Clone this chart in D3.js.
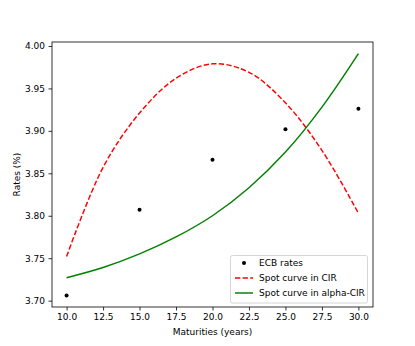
<!DOCTYPE html>
<html><head><meta charset="utf-8">
<script src="https://cdn.jsdelivr.net/npm/d3@7"></script>
<style>body{margin:0;background:#fff}svg{display:block}text{font-family:"DejaVu Sans",sans-serif;}</style>
</head><body><svg id="c" width="415" height="346"></svg>
<script>
const maturities = [10, 15, 20, 25, 30];
const ecbRates = [3.706, 3.807, 3.866, 3.902, 3.926];
const curveT = [10, 12.5, 15, 17.5, 20, 22.5, 25, 27.5, 30];
const cirCurve = [3.752, 3.857, 3.921, 3.962, 3.979, 3.969, 3.933, 3.877, 3.803];
const alphaCirCurve = [3.727, 3.739, 3.755, 3.775, 3.800, 3.833, 3.875, 3.928, 3.991];
const xTicks = [10, 12.5, 15, 17.5, 20, 22.5, 25, 27.5, 30];
const yTicks = [3.70, 3.75, 3.80, 3.85, 3.90, 3.95, 4.00];
const legendLabels = ["ECB rates", "Spot curve in CIR", "Spot curve in alpha-CIR"];

const svg = d3.select("#c");
const L = 52, R = 373, T = 42, B = 307;
const x = d3.scaleLinear().domain([9, 31]).range([L, R]);
const y = d3.scaleLinear().domain([3.6925, 4.0047]).range([B, T]);
const fs = 9;

const xAxis = svg.append("g").attr("transform", `translate(0,${B})`)
  .call(d3.axisBottom(x).tickValues(xTicks).tickFormat(d3.format(".1f")).tickSize(3.5).tickPadding(3.5));
const yAxis = svg.append("g").attr("transform", `translate(${L},0)`)
  .call(d3.axisLeft(y).tickValues(yTicks).tickFormat(d3.format(".2f")).tickSize(3.5).tickPadding(3.5));
[xAxis, yAxis].forEach(a => {
  a.select(".domain").remove();
  a.selectAll("line").attr("stroke", "#000").attr("stroke-width", 0.8);
  a.selectAll("text").attr("font-size", fs).attr("fill", "#000").attr("font-family", "DejaVu Sans");
});

const line = d3.line().x((d, i) => x(curveT[i])).y(d => y(d)).curve(d3.curveCatmullRom.alpha(0.5));
svg.append("path").datum(cirCurve).attr("d", line).attr("fill", "none")
  .attr("stroke", "red").attr("stroke-width", 1.45).attr("stroke-dasharray", "5.3,2.3");
svg.append("path").datum(alphaCirCurve).attr("d", line).attr("fill", "none")
  .attr("stroke", "green").attr("stroke-width", 1.45);

svg.selectAll("circle.pt").data(ecbRates).enter().append("circle")
  .attr("cx", (d, i) => x(maturities[i])).attr("cy", d => y(d)).attr("r", 2).attr("fill", "#000");

svg.append("rect").attr("x", L).attr("y", T).attr("width", R - L).attr("height", B - T)
  .attr("fill", "none").attr("stroke", "#000").attr("stroke-width", 0.8);

svg.append("text").attr("x", (L + R) / 2).attr("y", 335).attr("text-anchor", "middle")
  .attr("font-size", fs).text("Maturities (years)");
svg.append("text").attr("transform", `translate(20,${(T + B) / 2}) rotate(-90)`).attr("text-anchor", "middle")
  .attr("font-size", fs).text("Rates (%)");

// legend
const lg = svg.append("g");
lg.append("rect").attr("x", 230.5).attr("y", 255.5).attr("width", 137).attr("height", 47.5).attr("rx", 2)
  .attr("fill", "#fff").attr("fill-opacity", 0.8).attr("stroke", "#ccc").attr("stroke-width", 0.8);
const rows = [263, 278, 293];
lg.append("circle").attr("cx", 244).attr("cy", rows[0]).attr("r", 2).attr("fill", "#000");
lg.append("line").attr("x1", 235).attr("x2", 253).attr("y1", rows[1]).attr("y2", rows[1])
  .attr("stroke", "red").attr("stroke-width", 1.45).attr("stroke-dasharray", "5.3,2.3");
lg.append("line").attr("x1", 235).attr("x2", 253).attr("y1", rows[2]).attr("y2", rows[2])
  .attr("stroke", "green").attr("stroke-width", 1.45);
legendLabels.forEach((t, i) => {
  lg.append("text").attr("x", 259).attr("y", rows[i]).attr("dy", "0.35em").attr("font-size", fs).text(t);
});
</script></body></html>
